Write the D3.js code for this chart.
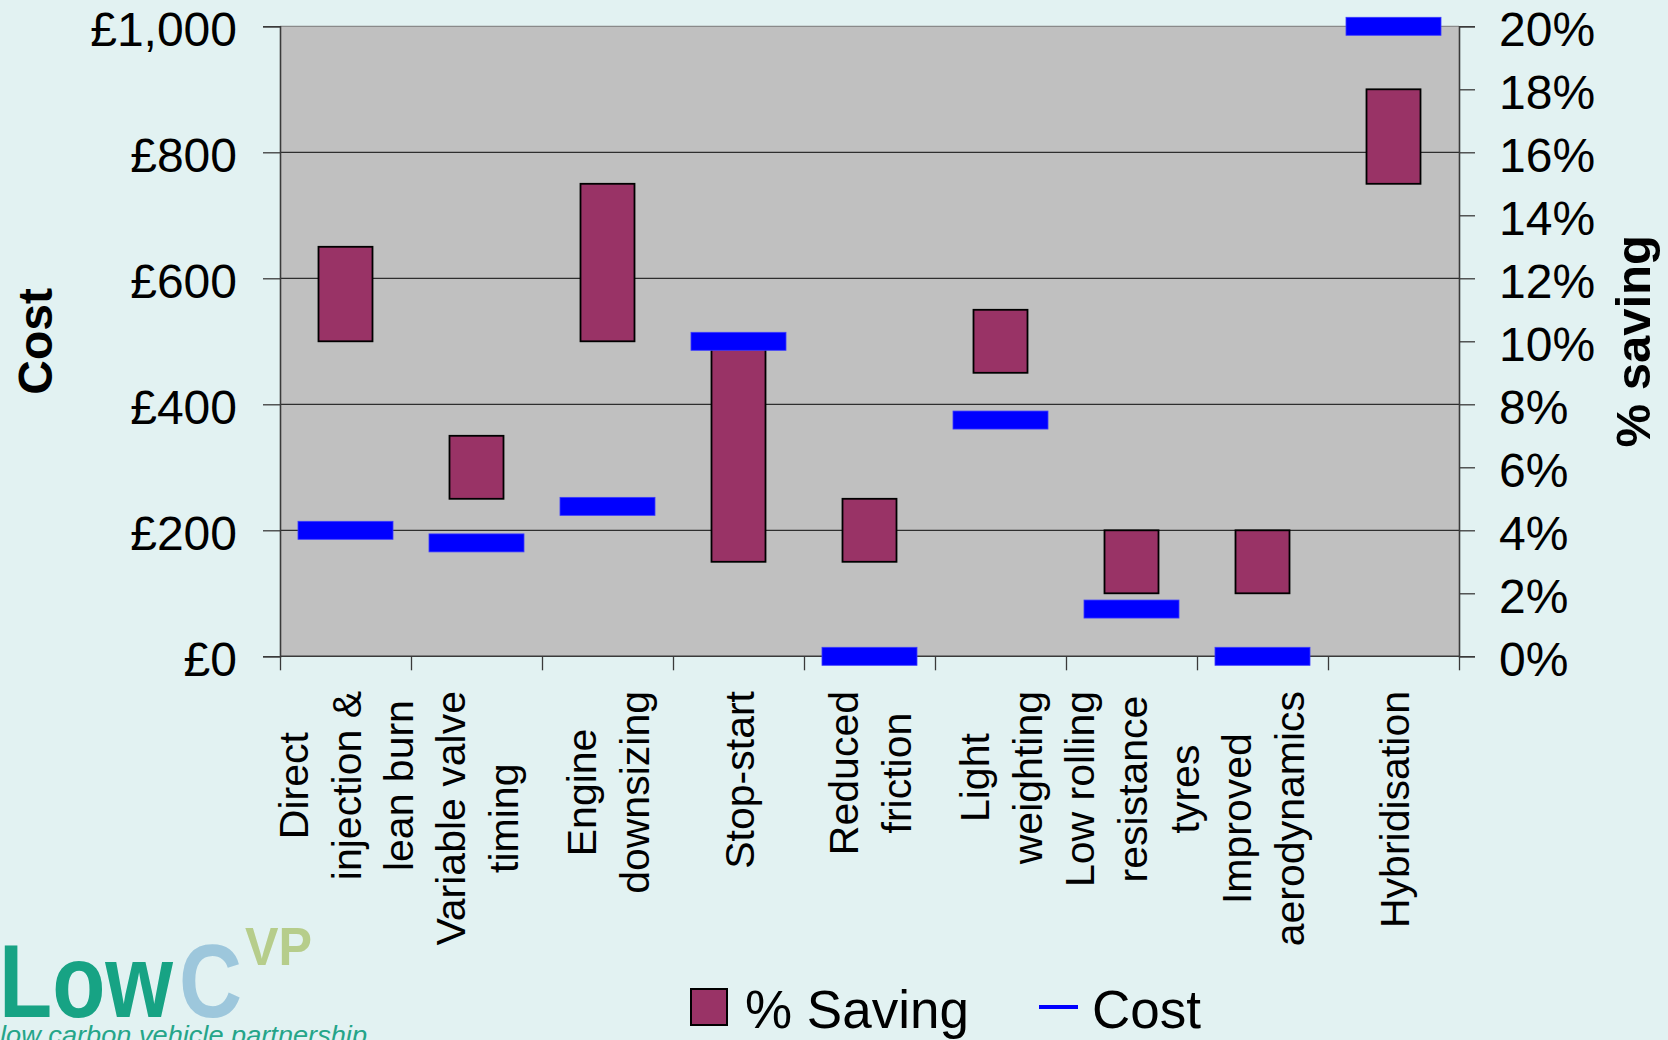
<!DOCTYPE html>
<html><head><meta charset="utf-8">
<script src="https://cdn.jsdelivr.net/npm/d3@7"></script>
<style>
body{margin:0;background:#E2F2F2;}
svg{display:block;font-family:"Liberation Sans",Arial,sans-serif;}
</style>
</head><body>
<svg id="c" width="1668" height="1040"></svg>
<script>
// ---- data ----
const categories = [
  ["Direct","injection &","lean burn"],
  ["Variable valve","timing"],
  ["Engine","downsizing"],
  ["Stop-start"],
  ["Reduced","friction"],
  ["Light","weighting"],
  ["Low rolling","resistance","tyres"],
  ["Improved","aerodynamics"],
  ["Hybridisation"]
];
const savingLow  = [10, 5, 10, 3, 3, 9, 2, 2, 15];
const savingHigh = [13, 7, 15, 10, 5, 11, 4, 4, 18];
const cost       = [200, 180, 238, 500, 0, 375, 75, 0, 1000];
const costTicks  = [0, 200, 400, 600, 800, 1000];
const pctTicks   = [0, 2, 4, 6, 8, 10, 12, 14, 16, 18, 20];
const seriesNames = ["% Saving", "Cost"];

// ---- layout ----
const L = 280, R = 1459, T = 26.3, B = 656.3;
const svg = d3.select("#c");
const x = d3.scaleBand().domain(d3.range(categories.length)).range([L, R]).padding(0);
const xb = d3.scaleLinear().domain([0, categories.length]).range([L, R]);
const y = d3.scaleLinear().domain([0, 1000]).range([B, T]);
const yp = d3.scaleLinear().domain([0, 20]).range([B, T]);

// plot background
svg.append("rect").attr("x", L).attr("y", T).attr("width", R - L).attr("height", B - T).attr("fill", "#C0C0C0");

// gridlines
svg.append("g").selectAll("line").data(costTicks.filter(d => d > 0)).join("line")
  .attr("x1", L).attr("x2", R).attr("y1", d => y(d)).attr("y2", d => y(d))
  .attr("stroke", d => d === 1000 ? "#8a8a8a" : "#2e2e2e").attr("stroke-width", 1.2);

// axes
const fmtCost = d => "£" + d3.format(",")(d);
const gl = svg.append("g").attr("transform", `translate(${L},0)`)
  .call(d3.axisLeft(y).tickValues(costTicks).tickFormat(fmtCost).tickSize(17).tickPadding(26));
const gr = svg.append("g").attr("transform", `translate(${R},0)`)
  .call(d3.axisRight(yp).tickValues(pctTicks).tickFormat(d => d + "%").tickSize(16).tickPadding(24));
const gb = svg.append("g").attr("transform", `translate(0,${B})`)
  .call(d3.axisBottom(xb).tickValues(d3.range(categories.length + 1)).tickFormat("").tickSize(14));
[gl, gr, gb].forEach(g => {
  g.select(".domain").attr("stroke", "#3a3a3a").attr("stroke-width", 1.6);
  g.selectAll(".tick line").attr("stroke", "#3a3a3a").attr("stroke-width", 1.3);
  g.selectAll(".tick text").attr("font-size", 48).attr("fill", "#000")
    .attr("font-family", '"Liberation Sans",Arial,sans-serif').attr("dy", "0.39em");
});
gb.select(".domain").attr("d", `M${L},0H${R}`);

// floating bars (% saving)
svg.append("g").selectAll("rect").data(categories.map((c, i) => i)).join("rect")
  .attr("x", i => x(i) + x.bandwidth() / 2 - 27)
  .attr("width", 54)
  .attr("y", i => yp(savingHigh[i]))
  .attr("height", i => yp(savingLow[i]) - yp(savingHigh[i]))
  .attr("fill", "#993366").attr("stroke", "#000").attr("stroke-width", 1.8);

// cost markers
svg.append("g").selectAll("rect").data(categories.map((c, i) => i)).join("rect")
  .attr("x", i => x(i) + x.bandwidth() / 2 - 47.5)
  .attr("width", 95)
  .attr("y", i => y(cost[i]) - 9)
  .attr("height", 18)
  .attr("fill", "#0000FF").attr("stroke", "#3b3bff").attr("stroke-width", 0.8);

// category labels (rotated, lines centred, block top at fixed offset)
const lineH = 52.5, labTop = 691, catFont = 41;
categories.forEach((lines, i) => {
  const cx = x(i) + x.bandwidth() / 2;
  const g = svg.append("g").attr("transform", `translate(${cx},0) rotate(-90)`);
  const texts = g.selectAll("text").data(lines).join("text")
    .attr("font-size", catFont).attr("text-anchor", "middle").attr("fill", "#000")
    .text(d => d);
  let maxLen = 0;
  texts.each(function () { maxLen = Math.max(maxLen, this.getComputedTextLength()); });
  const n = lines.length;
  texts.attr("x", -(labTop + maxLen / 2))
    .attr("y", (d, j) => (j - (n - 1) / 2) * lineH + 15);
});

// axis titles
svg.append("text").attr("transform", `translate(52,${(T + B) / 2}) rotate(-90)`)
  .attr("text-anchor", "middle").attr("font-size", 48).attr("font-weight", "bold").text("Cost");
svg.append("text").attr("transform", `translate(1650,${(T + B) / 2}) rotate(-90)`)
  .attr("text-anchor", "middle").attr("font-size", 49).attr("font-weight", "bold").text("% saving");

// legend
const lg = svg.append("g");
lg.append("rect").attr("x", 691).attr("y", 989).attr("width", 36).attr("height", 36)
  .attr("fill", "#993366").attr("stroke", "#000").attr("stroke-width", 2);
lg.append("text").attr("x", 745).attr("y", 1028).attr("font-size", 53).text(seriesNames[0]);
lg.append("line").attr("x1", 1039).attr("x2", 1078).attr("y1", 1007).attr("y2", 1007)
  .attr("stroke", "#0000FF").attr("stroke-width", 4);
lg.append("text").attr("x", 1092).attr("y", 1028).attr("font-size", 53).text(seriesNames[1]);

// logo
const logo = svg.append("g").attr("font-weight", "bold");
logo.append("text").attr("x", -1).attr("y", 1017).attr("font-size", 104).attr("fill", "#17A384")
  .attr("textLength", 174).attr("lengthAdjust", "spacingAndGlyphs").text("Low");
logo.append("text").attr("x", 179).attr("y", 1017).attr("font-size", 104).attr("fill", "#9DC7DC")
  .attr("textLength", 63).attr("lengthAdjust", "spacingAndGlyphs").text("C");
logo.append("text").attr("x", 245).attr("y", 965).attr("font-size", 53).attr("fill", "#B6CD8B")
  .attr("textLength", 67).attr("lengthAdjust", "spacingAndGlyphs").text("VP");
svg.append("text").attr("x", 0).attr("y", 1044).attr("font-size", 26).attr("font-style", "italic")
  .attr("fill", "#25A589").attr("textLength", 367).attr("lengthAdjust", "spacingAndGlyphs")
  .text("low carbon vehicle partnership");
</script>
</body></html>
